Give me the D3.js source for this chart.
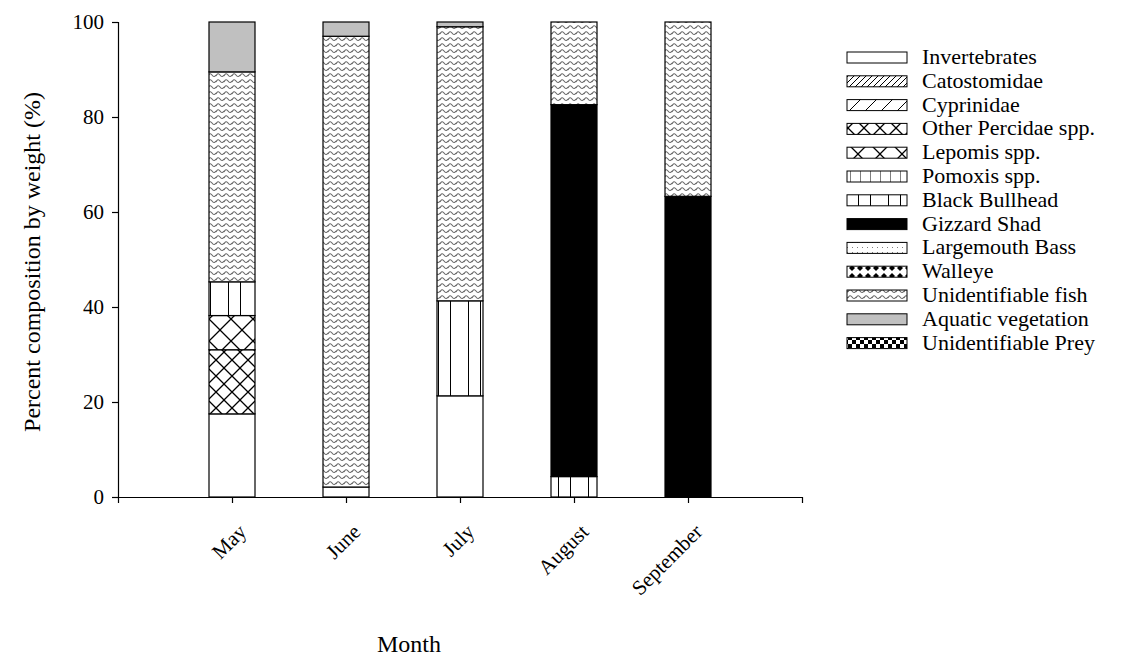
<!DOCTYPE html><html><head><meta charset="utf-8"><script src="https://cdn.jsdelivr.net/npm/d3@7"></script>
<style>body{margin:0;background:#fff}text{font-family:"Liberation Serif","Times New Roman",serif}</style></head><body><svg id="c" width="1132" height="665"></svg>
<script>
const months=["May","June","July","August","September"];
const categories=["Invertebrates","Catostomidae","Cyprinidae","Other Percidae spp.","Lepomis spp.","Pomoxis spp.","Black Bullhead","Gizzard Shad","Largemouth Bass","Walleye","Unidentifiable fish","Aquatic vegetation","Unidentifiable Prey"];
const invertebrates=[17.5,2.1,21.3,0,0];
const catostomidae=[0,0,0,0,0];
const cyprinidae=[0,0,0,0,0];
const otherPercidae=[13.5,0,0,0,0];
const lepomis=[7.2,0,0,0,0];
const pomoxis=[0,0,0,0,0];
const blackBullhead=[7.1,0,20,4.3,0];
const gizzardShad=[0,0,0,78.3,63.3];
const largemouth=[0,0,0,0,0];
const walleye=[0,0,0,0,0];
const unidFish=[44.2,94.9,57.7,17.4,36.7];
const vegetation=[10.5,3,1,0,0];
const unidPrey=[0,0,0,0,0];
const series=[invertebrates,catostomidae,cyprinidae,otherPercidae,lepomis,pomoxis,blackBullhead,gizzardShad,largemouth,walleye,unidFish,vegetation,unidPrey];
const yTicks=[0,20,40,60,80,100];

const svg=d3.select("#c");
const defs=svg.append("defs");
function pat(id,w,h,draw){const p=defs.append("pattern").attr("id",id).attr("patternUnits","userSpaceOnUse").attr("width",w).attr("height",h);p.append("rect").attr("width",w).attr("height",h).attr("fill","#fff");draw(p);}
pat("p1",6,6,p=>p.append("path").attr("d","M0,6L6,0M-1,1L1,-1M5,7L7,5").attr("stroke","#000").attr("stroke-width",1));
pat("p2",16,16,p=>p.append("path").attr("d","M0,16L16,0").attr("stroke","#000").attr("stroke-width",1));
pat("p3",16,16,p=>p.append("path").attr("d","M0,0L16,16M0,16L16,0").attr("stroke","#000").attr("stroke-width",1.3));
pat("p4",22,22,p=>p.append("path").attr("d","M0,0L22,22M0,22L22,0").attr("stroke","#000").attr("stroke-width",1.3));
pat("p5",10,10,p=>p.append("path").attr("d","M0,0V10").attr("stroke","#000"));
pat("p6",30,10,p=>p.append("path").attr("d","M0.5,0V10M18.5,0V10").attr("stroke","#000"));
pat("p8",5,5,p=>p.append("circle").attr("cx",2.5).attr("cy",2.5).attr("r",0.5).attr("fill","#555"));
pat("p9",8,8,p=>p.append("path").attr("d","M4,1L7,4L4,7L1,4Z").attr("fill","#000"));
pat("p10",8,6,p=>{p.append("path").attr("d","M0,4Q2,0 4,3T8,3").attr("fill","none").attr("stroke","#666").attr("stroke-width",1.1);});
pat("p12",8,8,p=>{p.append("rect").attr("width",4).attr("height",4);p.append("rect").attr("x",4).attr("y",4).attr("width",4).attr("height",4);});
const fills=["#fff","url(#p1)","url(#p2)","url(#p3)","url(#p4)","url(#p5)","url(#p6)","#000","url(#p8)","url(#p9)","url(#p10)","#c0c0c0","url(#p12)"];

const x=d3.scaleLinear().domain([0,6]).range([118,802]);
const y=d3.scaleLinear().domain([0,100]).range([497,22]);
const bw=46;
months.forEach((m,i)=>{let acc=0;series.forEach((s,k)=>{const v=s[i];if(v>0){svg.append("rect").attr("x",x(i+1)-bw/2).attr("width",bw).attr("y",y(acc+v)).attr("height",y(acc)-y(acc+v)).attr("fill",fills[k]).attr("stroke","#000").attr("stroke-width",1.2);}acc+=v;});});

const ya=svg.append("g").attr("transform","translate(118,0)").call(d3.axisLeft(y).tickValues(yTicks).tickSize(6).tickPadding(8));
ya.selectAll("text").attr("font-size",21).attr("font-family","Liberation Serif");
const xa=svg.append("g").attr("transform","translate(0,497)").call(d3.axisBottom(x).tickValues([1,2,3,4,5]).tickFormat(d=>months[d-1]).tickSize(6));
xa.selectAll("text").attr("font-size",21).attr("font-family","Liberation Serif").attr("text-anchor","end").attr("transform","rotate(-45)").attr("dx","-0.7em").attr("dy","1.3em");
svg.selectAll(".domain,.tick line").attr("stroke","#000").attr("stroke-width",1.2);
svg.append("text").attr("x",409).attr("y",652).attr("text-anchor","middle").attr("font-size",24).text("Month");
svg.append("text").attr("transform","translate(40,262) rotate(-90)").attr("text-anchor","middle").attr("font-size",24).text("Percent composition by weight (%)");

const lg=svg.append("g");
categories.forEach((c,k)=>{const yy=57+k*23.8;lg.append("rect").attr("x",847).attr("y",yy-5).attr("width",60).attr("height",11).attr("fill",fills[k]).attr("stroke","#000").attr("stroke-width",1);lg.append("text").attr("x",922).attr("y",yy+7).attr("font-size",22).attr("textLength",null).text(c);});
</script></body></html>
